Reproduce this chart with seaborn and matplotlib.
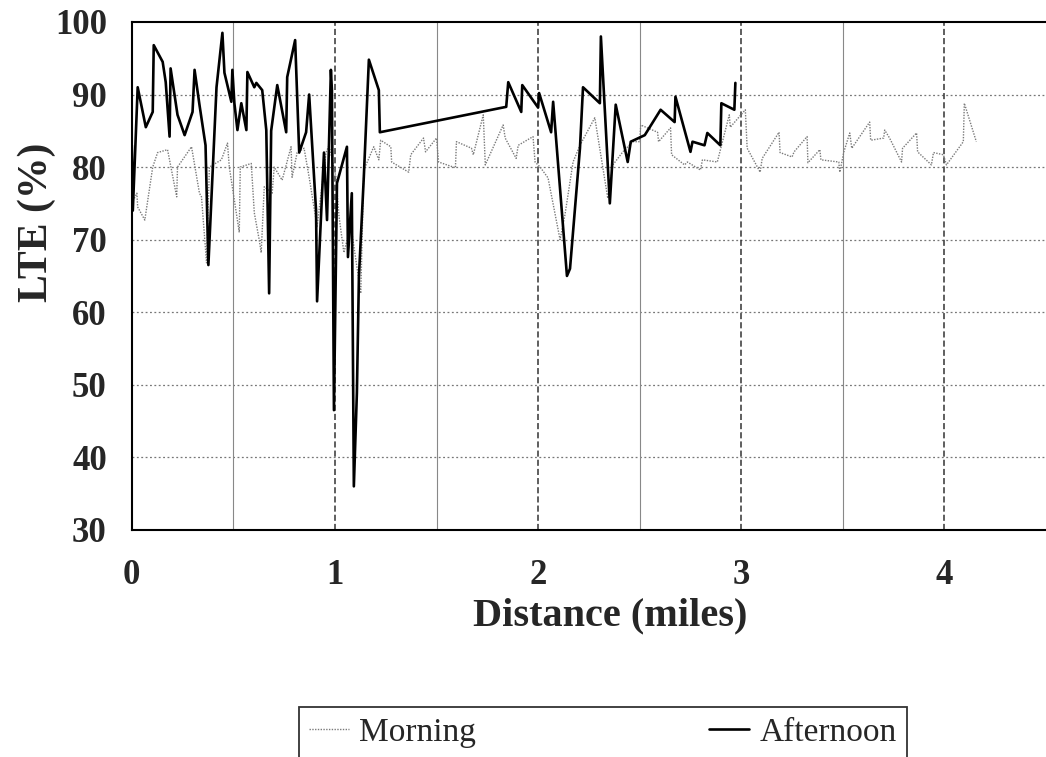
import numpy as np
import pandas as pd
import matplotlib
matplotlib.use("Agg")
import matplotlib.pyplot as plt
import seaborn as sns
from matplotlib.ticker import MultipleLocator

# LTE survey readings along the test section
morning_dist = [0.000, 0.025, 0.029, 0.064, 0.103, 0.127, 0.176, 0.221, 0.225, 0.294,
                0.333, 0.343, 0.368, 0.382, 0.441, 0.471, 0.480, 0.529, 0.534, 0.588,
                0.603, 0.627, 0.637, 0.652, 0.691, 0.701, 0.740, 0.784, 0.789, 0.814,
                0.848, 0.873, 0.912, 0.956, 0.971, 1.005, 1.020, 1.044, 1.078, 1.127,
                1.142, 1.191, 1.216, 1.225, 1.275, 1.279, 1.363, 1.373, 1.436, 1.446,
                1.500, 1.510, 1.593, 1.598, 1.672, 1.681, 1.730, 1.740, 1.828, 1.838,
                1.892, 1.902, 1.975, 1.985, 2.010, 2.049, 2.108, 2.132, 2.172, 2.206,
                2.279, 2.343, 2.368, 2.417, 2.466, 2.500, 2.505, 2.588, 2.593, 2.652,
                2.657, 2.721, 2.735, 2.799, 2.809, 2.882, 2.941, 2.946, 3.020, 3.029,
                3.093, 3.103, 3.186, 3.191, 3.250, 3.260, 3.324, 3.328, 3.387, 3.392,
                3.480, 3.485, 3.505, 3.534, 3.544, 3.632, 3.637, 3.701, 3.706, 3.730,
                3.789, 3.794, 3.863, 3.868, 3.936, 3.946, 3.995, 4.010, 4.093, 4.098,
                4.157]
morning_lte = [75.0, 76.4, 74.5, 72.7, 80.0, 82.0, 82.4, 75.9, 80.0, 82.8,
               76.4, 75.9, 66.8, 80.0, 81.0, 83.3, 80.0, 71.0, 80.0, 80.5,
               73.7, 70.0, 68.2, 77.3, 76.4, 80.0, 78.2, 82.8, 78.6, 82.0,
               82.6, 78.6, 71.8, 82.0, 83.0, 78.6, 73.2, 68.2, 72.0, 62.6,
               79.6, 82.8, 81.0, 83.7, 82.8, 80.7, 79.3, 81.7, 84.0, 82.1,
               84.0, 80.7, 79.9, 83.5, 82.6, 81.7, 87.2, 80.3, 85.8, 84.0,
               81.2, 83.0, 84.2, 80.7, 80.0, 78.5, 70.0, 73.4, 80.7, 83.0,
               86.8, 75.7, 80.3, 82.1, 83.5, 83.5, 85.8, 84.8, 83.5, 85.4,
               81.7, 80.3, 80.7, 79.6, 81.0, 80.7, 87.2, 85.5, 87.9, 82.6,
               79.3, 81.2, 84.8, 82.0, 81.4, 82.1, 84.2, 80.6, 82.4, 81.0,
               80.7, 79.3, 82.1, 84.7, 82.6, 86.2, 83.7, 84.0, 85.1, 84.0,
               80.7, 82.6, 84.7, 82.1, 80.3, 82.0, 81.7, 80.3, 83.5, 88.8,
               83.5]

afternoon_dist = [0.000, 0.005, 0.029, 0.069, 0.103, 0.108, 0.152, 0.167, 0.186, 0.191,
                  0.225, 0.260, 0.299, 0.309, 0.333, 0.363, 0.377, 0.417, 0.446, 0.456,
                  0.490, 0.495, 0.505, 0.520, 0.539, 0.564, 0.569, 0.603, 0.613, 0.642,
                  0.662, 0.676, 0.686, 0.716, 0.760, 0.765, 0.804, 0.824, 0.858, 0.873,
                  0.907, 0.912, 0.946, 0.961, 0.980, 0.985, 0.995, 1.010, 1.059, 1.064,
                  1.083, 1.093, 1.108, 1.118, 1.142, 1.167, 1.216, 1.221, 1.843, 1.853,
                  1.917, 1.922, 2.000, 2.005, 2.064, 2.074, 2.142, 2.157, 2.206, 2.221,
                  2.304, 2.309, 2.353, 2.382, 2.441, 2.456, 2.525, 2.603, 2.672, 2.676,
                  2.750, 2.760, 2.819, 2.833, 2.897, 2.902, 2.966, 2.971]
afternoon_lte = [83.0, 74.0, 91.0, 85.5, 87.6, 96.8, 94.5, 91.7, 84.2, 93.6,
                 87.2, 84.4, 87.6, 93.4, 88.6, 83.0, 66.5, 91.0, 98.5, 93.0,
                 89.0, 93.4, 88.8, 85.1, 88.8, 85.1, 93.1, 91.0, 91.6, 90.6,
                 85.1, 62.6, 85.0, 91.3, 84.8, 92.4, 97.5, 82.0, 84.8, 90.0,
                 74.0, 61.5, 82.0, 72.7, 93.4, 90.6, 46.5, 77.8, 82.8, 67.6,
                 76.4, 36.0, 48.9, 64.9, 78.6, 94.8, 90.6, 84.8, 88.3, 91.7,
                 87.6, 91.3, 88.2, 90.2, 84.8, 89.0, 65.0, 66.0, 82.6, 91.0,
                 88.8, 98.0, 75.0, 88.6, 80.7, 83.5, 84.4, 87.9, 86.2, 89.7,
                 82.1, 83.5, 83.0, 84.7, 83.0, 88.8, 87.9, 91.6]

x_ticks = [0, 1, 2, 3, 4]
y_ticks = [30, 40, 50, 60, 70, 80, 90, 100]

morning = pd.DataFrame({"dist": morning_dist, "lte": morning_lte})
afternoon = pd.DataFrame({"dist": afternoon_dist, "lte": afternoon_lte})

sns.set_style("white")
plt.rcParams["font.family"] = ["Liberation Serif", "DejaVu Serif"]

fig = plt.figure(figsize=(10.46, 7.57), dpi=100)
ax = fig.add_axes([0.126, 0.300, 0.874, 0.671])

# grid: dotted horizontals, dashed verticals at whole miles, thin solid at half miles
for yv in range(40, 100, 10):
    ax.axhline(yv, color="#777777", lw=0.9, ls=(0, (1.5, 2)), zorder=1)
for xv in [0.5, 1.5, 2.5, 3.5]:
    ax.axvline(xv, color="#888888", lw=0.8, ls="-", zorder=1)
for xv in [1, 2, 3, 4]:
    ax.axvline(xv, color="#333333", lw=1.1, ls=(0, (4, 2)), zorder=1)

sns.lineplot(data=morning, x="dist", y="lte", ax=ax, sort=False, estimator=None,
             color="#7a7a7a", lw=1.0, ls=(0, (1, 1)), label="Morning", zorder=2)
sns.lineplot(data=afternoon, x="dist", y="lte", ax=ax, sort=False, estimator=None,
             color="black", lw=1.9, label="Afternoon", zorder=3)

ax.set_xlim(0, 4.5)
ax.set_ylim(30, 100)
ax.set_xticks(x_ticks)
ax.set_yticks(y_ticks)
ax.xaxis.set_minor_locator(MultipleLocator(0.5))
ax.yaxis.set_minor_locator(MultipleLocator(5))
ax.tick_params(axis="both", which="major", direction="inout", length=10, width=1.2,
               labelsize=25)
ax.tick_params(axis="both", which="minor", direction="inout", length=7, width=1.0)
ax.tick_params(axis="y", which="major", pad=13)
ax.tick_params(axis="x", which="major", pad=16)
for lab in ax.get_xticklabels() + ax.get_yticklabels():
    lab.set_fontweight("bold")

ax.set_xlabel("Distance (miles)", fontsize=29, fontweight="bold")
ax.set_ylabel("LTE (%)", fontsize=30, fontweight="bold")
ax.xaxis.set_label_coords(0.523, -0.132)
ax.yaxis.set_label_coords(-0.083, 0.606)

for side in ["left", "bottom", "top"]:
    ax.spines[side].set_color("black")
    ax.spines[side].set_linewidth(1.5)
ax.spines["right"].set_visible(False)

ax.get_legend().remove()
handles, labels = ax.get_legend_handles_labels()
leg = fig.legend(handles, labels, loc="upper left", bbox_to_anchor=(0.286, 0.066),
                 ncol=2, frameon=True, fancybox=False, shadow=False,
                 fontsize=24, columnspacing=7.0, handlelength=1.2, handletextpad=0.3,
                 borderpad=0.3, borderaxespad=0.0)
leg.get_frame().set_edgecolor("black")
leg.get_frame().set_linewidth(1.3)

fig.savefig("out.png", dpi=100)
